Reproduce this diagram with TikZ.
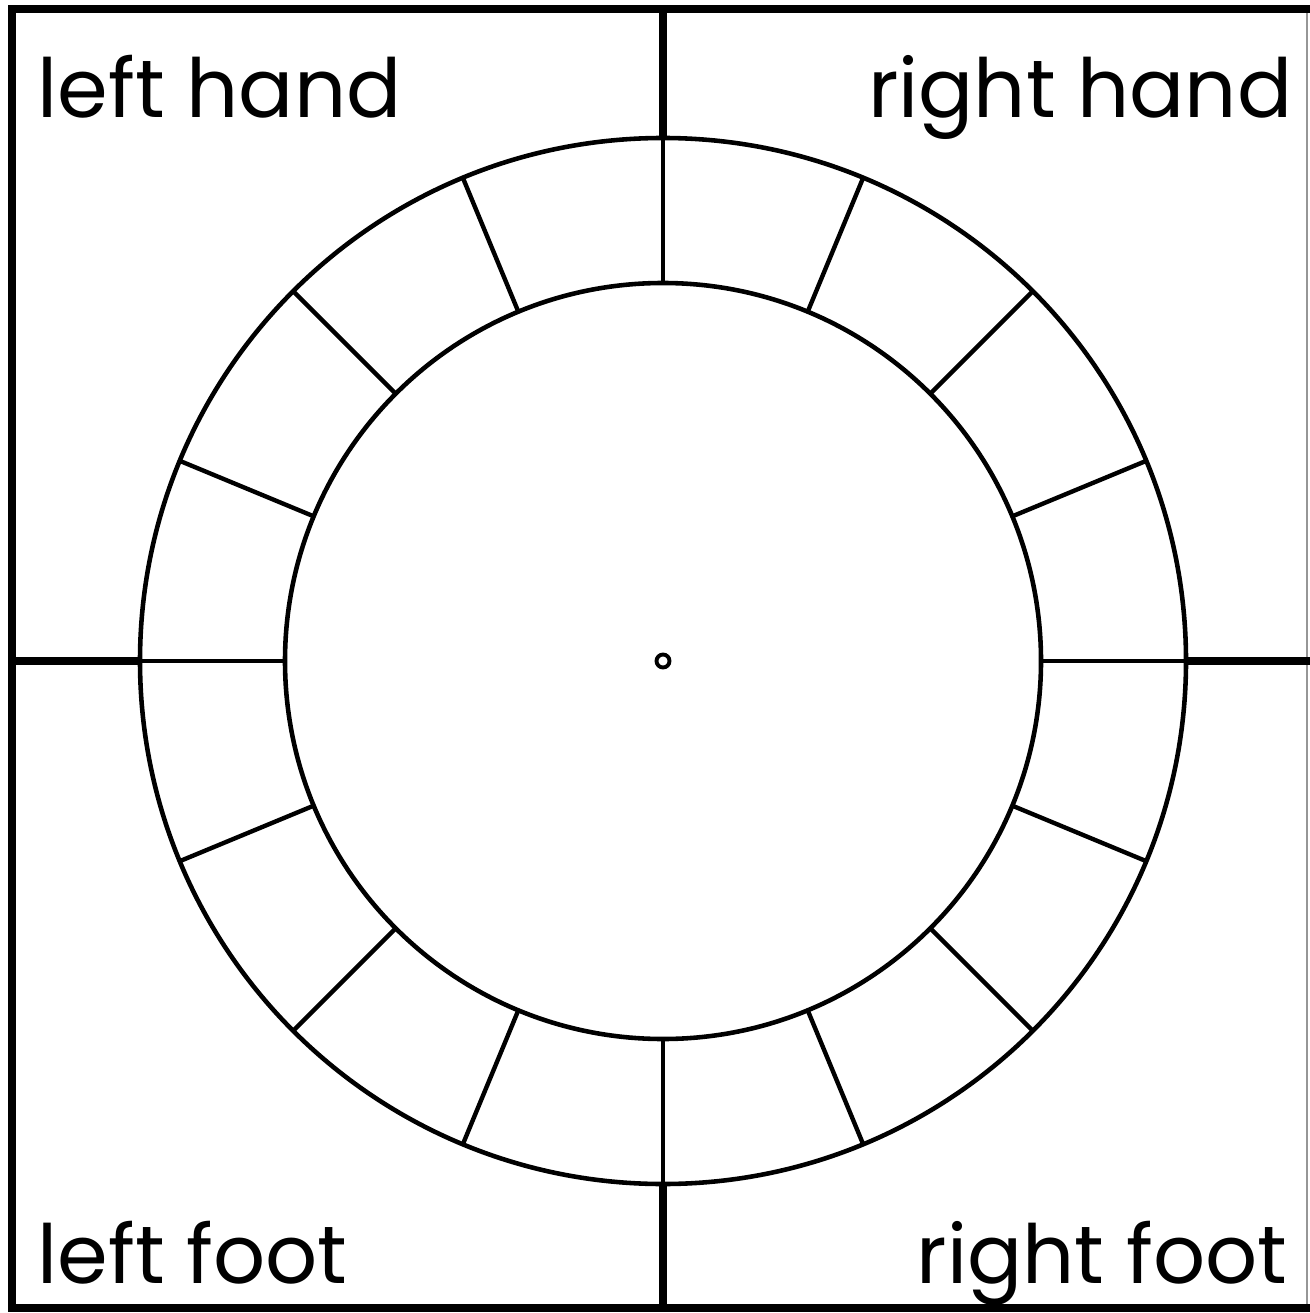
\documentclass[tikz,border=0pt]{standalone}
\usepackage{fontspec}
\setmainfont{Poppins}
\usepackage{xcolor}
\definecolor{edgegray}{RGB}{150,150,150}
\usetikzlibrary{positioning}

\tikzset{
  ring/.style={draw=black, line width=1.3pt},
  spoke/.style={draw=black, line width=1.25pt},
  divider/.style={draw=black, line width=2.4pt},
  label/.style={font=\fontsize{23.2}{28}\selectfont, inner sep=0pt, text=black}
}

\begin{document}
\begin{tikzpicture}[x=0.01cm, y=-0.01cm]
  \useasboundingbox (0,0) rectangle (1310,1313);

  % Frame
  \draw[edgegray, line width=0.4pt] (1307,9) -- (1307,1308);
  \draw[black, line width=2.2pt] (1310,9) -- (12,9) -- (12,1308) -- (1310,1308);

  % Quadrant dividers
  \draw[divider] (663,9) -- (663,138);
  \draw[divider] (663,1184) -- (663,1308);
  \draw[divider] (12,661) -- (140,661);
  \draw[divider] (1186,661) -- (1310,661);

  % Spinner rings
  \coordinate (c) at (663,661);
  \draw[ring] (c) circle (523);
  \draw[ring] (c) circle (378);
  \draw[black, line width=1.1pt] (c) circle (6.5);

  % Spokes
  \begin{scope}[shift={(c)}]
    \draw[spoke] (0:378) -- (0:523);
    \draw[spoke] (22.5:378) -- (22.5:523);
    \draw[spoke] (45:378) -- (45:523);
    \draw[spoke] (67.5:378) -- (67.5:523);
    \draw[spoke] (90:378) -- (90:523);
    \draw[spoke] (112.5:378) -- (112.5:523);
    \draw[spoke] (135:378) -- (135:523);
    \draw[spoke] (157.5:378) -- (157.5:523);
    \draw[spoke] (180:378) -- (180:523);
    \draw[spoke] (202.5:378) -- (202.5:523);
    \draw[spoke] (225:378) -- (225:523);
    \draw[spoke] (247.5:378) -- (247.5:523);
    \draw[spoke] (270:378) -- (270:523);
    \draw[spoke] (292.5:378) -- (292.5:523);
    \draw[spoke] (315:378) -- (315:523);
    \draw[spoke] (337.5:378) -- (337.5:523);
  \end{scope}

  % Corner labels
  \node[label, anchor=base west] (lefthand) at (37,118) {left hand};
  \node[label, anchor=base east] (righthand) at (1293,118) {right hand};
  \node[label, anchor=base west] (leftfoot) at (37,1283) {left foot};
  \node[label, anchor=base east] (rightfoot) at (1288,1283) {right foot};
\end{tikzpicture}
\end{document}
